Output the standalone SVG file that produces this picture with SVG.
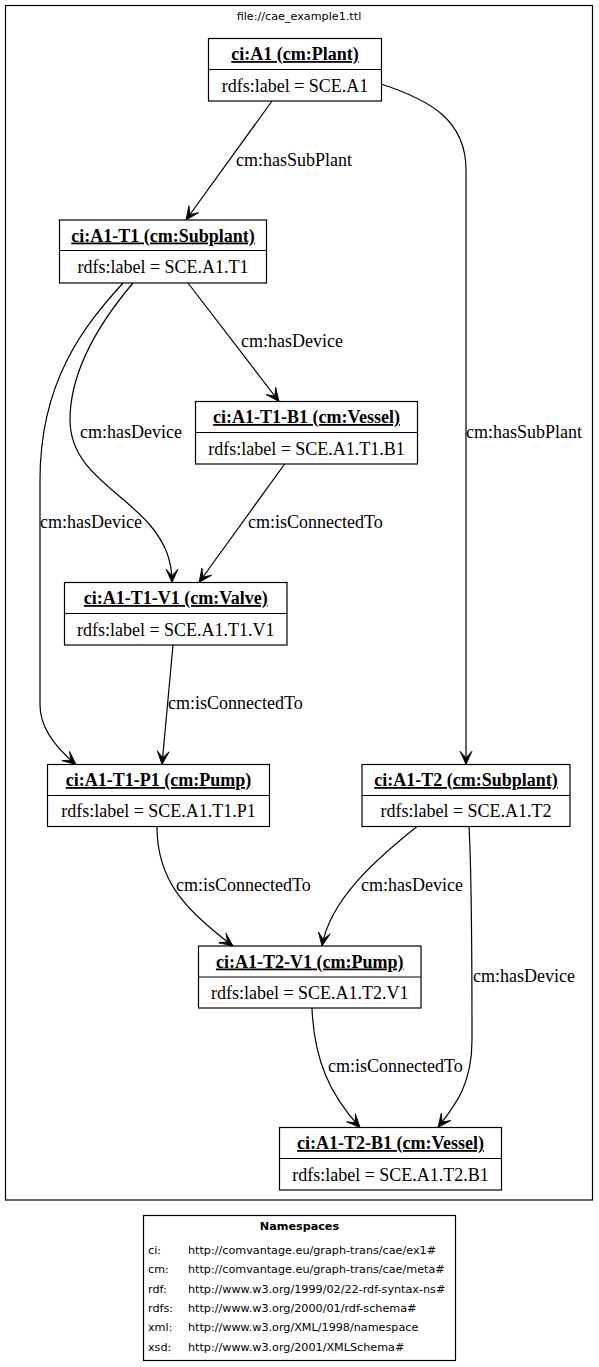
<svg xmlns="http://www.w3.org/2000/svg" width="599" height="1367" viewBox="0 0 599 1367">
<style>
.box{fill:#fff;stroke:#000;stroke-width:1.2}
.div{stroke:#000;stroke-width:1.2}
.t{font-family:"Liberation Serif","Times New Roman",serif;font-size:18px;font-weight:bold;text-anchor:middle;text-decoration:underline;fill:#000}
.l{font-family:"Liberation Serif","Times New Roman",serif;font-size:18px;text-anchor:middle;fill:#000}
.el{font-family:"Liberation Serif","Times New Roman",serif;font-size:18px;fill:#000}
.edge{fill:none;stroke:#000;stroke-width:1.2;marker-end:url(#vee)}
.s{font-family:"DejaVu Sans",sans-serif;font-size:11.2px;fill:#000}
</style>
<defs>
<marker id="vee" markerUnits="userSpaceOnUse" markerWidth="14" markerHeight="12" viewBox="0 0 14 12" refX="13.3" refY="6" orient="auto" overflow="visible">
<path d="M13.3,6 L0,0 L6.5,6 L0,12 Z" fill="#000" stroke="#000" stroke-width="0.8"/>
</marker>
</defs>
<rect x="0" y="0" width="599" height="1367" fill="#fff"/>
<g id="cluster">
<rect x="5.5" y="5.5" width="587" height="1194.5" fill="#fff" stroke="#000" stroke-width="1.2"/>
<text class="s" x="299" y="19.5" text-anchor="middle">file://cae_example1.ttl</text>
</g>
<g id="connectors">
<path class="edge" d="M272,101 L186,220"/>
<path class="edge" d="M381,84 C430,100 466,120 466,170 L466,764.5"/>
<path class="edge" d="M188,283 L279,401.5"/>
<path class="edge" d="M133,283 C100,322 70,370 70,420 C70,470 120,490 150,525 C165,543 172,560 172,582.5"/>
<path class="edge" d="M123,283 C85,325 40,380 40,480 L40,705 C40,728 56,748 76,764.5"/>
<path class="edge" d="M285,463.5 L199,582.5"/>
<path class="edge" d="M173,645 L162,764.5"/>
<path class="edge" d="M157,827 C157,880 185,910 233,946"/>
<path class="edge" d="M417,826.5 C375,860 330,900 322,946"/>
<path class="edge" d="M469,826.5 C472,880 472,960 472,1040 C472,1085 455,1105 438,1127.5"/>
<path class="edge" d="M312,1008 C314,1060 330,1095 360,1127.5"/>
<text class="el" x="236" y="166">cm:hasSubPlant</text>
<text class="el" x="466" y="438">cm:hasSubPlant</text>
<text class="el" x="241" y="347">cm:hasDevice</text>
<text class="el" x="80" y="438">cm:hasDevice</text>
<text class="el" x="40" y="528">cm:hasDevice</text>
<text class="el" x="248" y="528">cm:isConnectedTo</text>
<text class="el" x="168" y="709">cm:isConnectedTo</text>
<text class="el" x="176" y="891">cm:isConnectedTo</text>
<text class="el" x="361" y="891">cm:hasDevice</text>
<text class="el" x="473" y="982">cm:hasDevice</text>
<text class="el" x="328" y="1072">cm:isConnectedTo</text>
</g>
<g id="A1">
<rect class="box" x="208.5" y="38.5" width="173" height="62.5"/>
<line class="div" x1="208.5" y1="69.5" x2="381.5" y2="69.5"/>
<text class="t" x="295" y="60">ci:A1 (cm:Plant)</text>
<text class="l" x="295" y="91.5">rdfs:label = SCE.A1</text>
</g>
<g id="A1-T1">
<rect class="box" x="59.5" y="220" width="207" height="63"/>
<line class="div" x1="59.5" y1="250.5" x2="266.5" y2="250.5"/>
<text class="t" x="163" y="241.5">ci:A1-T1 (cm:Subplant)</text>
<text class="l" x="163" y="273">rdfs:label = SCE.A1.T1</text>
</g>
<g id="A1-T1-B1">
<rect class="box" x="195.5" y="401.5" width="222" height="62.5"/>
<line class="div" x1="195.5" y1="432.5" x2="417.5" y2="432.5"/>
<text class="t" x="306.5" y="423">ci:A1-T1-B1 (cm:Vessel)</text>
<text class="l" x="306.5" y="454.5">rdfs:label = SCE.A1.T1.B1</text>
</g>
<g id="A1-T1-V1">
<rect class="box" x="64.5" y="582.5" width="222.5" height="62.5"/>
<line class="div" x1="64.5" y1="613.5" x2="287" y2="613.5"/>
<text class="t" x="175.75" y="604">ci:A1-T1-V1 (cm:Valve)</text>
<text class="l" x="175.75" y="635.5">rdfs:label = SCE.A1.T1.V1</text>
</g>
<g id="A1-T1-P1">
<rect class="box" x="47.5" y="764.5" width="222" height="62"/>
<line class="div" x1="47.5" y1="795.5" x2="269.5" y2="795.5"/>
<text class="t" x="158.5" y="786">ci:A1-T1-P1 (cm:Pump)</text>
<text class="l" x="158.5" y="817">rdfs:label = SCE.A1.T1.P1</text>
</g>
<g id="A1-T2">
<rect class="box" x="362" y="764.5" width="208" height="62"/>
<line class="div" x1="362" y1="795.5" x2="570" y2="795.5"/>
<text class="t" x="466" y="786">ci:A1-T2 (cm:Subplant)</text>
<text class="l" x="466" y="817">rdfs:label = SCE.A1.T2</text>
</g>
<g id="A1-T2-V1">
<rect class="box" x="198.5" y="946" width="222.5" height="62"/>
<line class="div" x1="198.5" y1="977" x2="421" y2="977"/>
<text class="t" x="309.75" y="967.5">ci:A1-T2-V1 (cm:Pump)</text>
<text class="l" x="309.75" y="998.5">rdfs:label = SCE.A1.T2.V1</text>
</g>
<g id="A1-T2-B1">
<rect class="box" x="279.5" y="1127.5" width="222" height="62.5"/>
<line class="div" x1="279.5" y1="1158.5" x2="501.5" y2="1158.5"/>
<text class="t" x="390.5" y="1149">ci:A1-T2-B1 (cm:Vessel)</text>
<text class="l" x="390.5" y="1180.5">rdfs:label = SCE.A1.T2.B1</text>
</g>
<g id="namespaces">
<rect x="143.5" y="1215.5" width="312" height="145" fill="#fff" stroke="#000" stroke-width="1.2"/>
<text class="s" x="299.5" y="1230" text-anchor="middle" font-weight="bold">Namespaces</text>
<text class="s" x="148" y="1254">ci:</text>
<text class="s" x="188" y="1254">http://comvantage.eu/graph-trans/cae/ex1#</text>
<text class="s" x="148" y="1273.3">cm:</text>
<text class="s" x="188" y="1273.3">http://comvantage.eu/graph-trans/cae/meta#</text>
<text class="s" x="148" y="1292.7">rdf:</text>
<text class="s" x="188" y="1292.7">http://www.w3.org/1999/02/22-rdf-syntax-ns#</text>
<text class="s" x="148" y="1312">rdfs:</text>
<text class="s" x="188" y="1312">http://www.w3.org/2000/01/rdf-schema#</text>
<text class="s" x="148" y="1331.3">xml:</text>
<text class="s" x="188" y="1331.3">http://www.w3.org/XML/1998/namespace</text>
<text class="s" x="148" y="1350.7">xsd:</text>
<text class="s" x="188" y="1350.7">http://www.w3.org/2001/XMLSchema#</text>
</g>
</svg>
